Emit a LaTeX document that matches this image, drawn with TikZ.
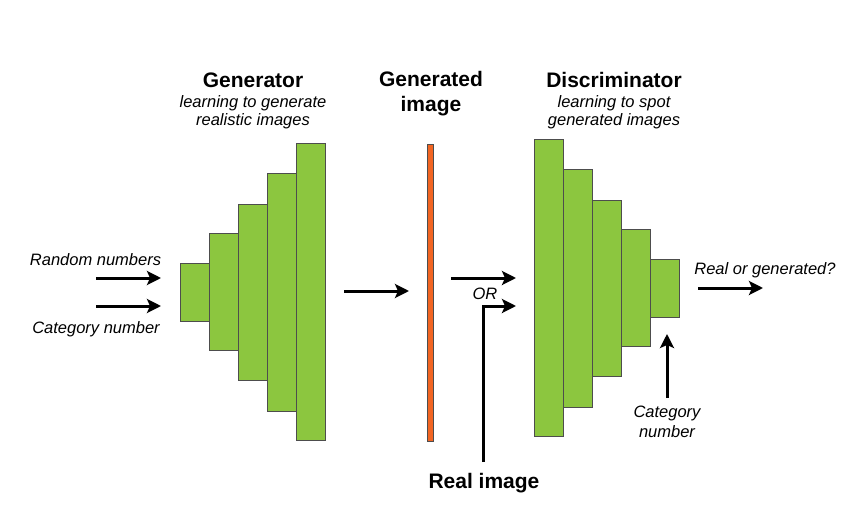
\documentclass[tikz,border=0pt]{standalone}
\usepackage{fontspec}
\setmainfont{Liberation Sans}
\usetikzlibrary{positioning, arrows.meta}

\definecolor{layergreen}{HTML}{8CC63F}
\definecolor{layeredge}{HTML}{4D4D4D}
\definecolor{imgorange}{HTML}{F26522}

\tikzset{
  layer/.style={draw=layeredge, fill=layergreen, line width=1pt, inner sep=0pt,
    outer sep=0pt, minimum width=29pt},
  title/.style={font=\fontsize{21}{25}\selectfont\bfseries, align=center, inner sep=0pt},
  note/.style={font=\fontsize{16.5}{18}\selectfont\itshape, align=center, inner sep=0pt},
  flow/.style={line width=3pt, -{Stealth[length=14pt,width=14pt,inset=3pt]}}
}

\begin{document}
\begin{tikzpicture}[x=1pt,y=-1pt]
      \useasboundingbox (0,0) rectangle (860,519);

      % generator
      \node[layer, minimum height=58pt]  (g_1) at (194.5,292) {};
      \node[layer, minimum height=117pt] (g_2) [right=0pt of g_1] {};
      \node[layer, minimum height=176pt] (g_3) [right=0pt of g_2] {};
      \node[layer, minimum height=238pt] (g_4) [right=0pt of g_3] {};
      \node[layer, minimum height=297pt] (g_5) [right=0pt of g_4] {};

      % generated image
      \node[draw=layeredge, fill=imgorange, line width=1pt, inner sep=0pt,
            minimum width=6pt, minimum height=297pt] (img) at (430,292.5) {};

      % discriminator
      \node[layer, minimum height=297pt] (d_1) at (548.5,288) {};
      \node[layer, minimum height=238pt] (d_2) [right=0pt of d_1] {};
      \node[layer, minimum height=176pt] (d_3) [right=0pt of d_2] {};
      \node[layer, minimum height=117pt] (d_4) [right=0pt of d_3] {};
      \node[layer, minimum height=58pt]  (d_5) [right=0pt of d_4] {};

      % labels
      \node[title, anchor=base] (gen_t) at (253,88) {Generator};
      \node[note, anchor=north] (gen_n) at (253,95) {learning to generate\\realistic images};
      \node[title, anchor=north] (img_t) at (431,71) {Generated\\image};
      \node[title, anchor=base] (dis_t) at (614,88) {Discriminator};
      \node[note, anchor=north] (dis_n) at (614,95) {learning to spot\\generated images};
      \node[note, anchor=base] (rand_t) at (95.5,265) {Random numbers};
      \node[note, anchor=base] (cat_t) at (96,333) {Category number};
      \node[note, anchor=base] (or_t) at (485,299) {OR};
      \node[note, anchor=base] (out_t) at (765,274) {Real or generated?};
      \node[note, anchor=north, font=\fontsize{16.5}{20}\selectfont\itshape] (cat2_t) at (667,406) {Category\\number};
      \node[title, anchor=base] (real_t) at (484,488) {Real image};

      % arrow ends
      \coordinate (rand_s) at (96,278);
      \coordinate (rand_e) at (161,278);
      \coordinate (cat_s) at (96,306);
      \coordinate (cat_e) at (161,306);
      \coordinate (gen_s) at (344,291);
      \coordinate (gen_e) at (409,291);
      \coordinate (fake_s) at (451,278);
      \coordinate (fake_e) at (516,278);
      \coordinate (real_s) at (483,462);
      \coordinate (real_k) at (483,306);
      \coordinate (real_e) at (516,306);
      \coordinate (out_s) at (698,288);
      \coordinate (out_e) at (763,288);
      \coordinate (cat2_s) at (667,398);
      \coordinate (cat2_e) at (667,334);

      \draw[flow] (rand_s) -- (rand_e);
      \draw[flow] (cat_s) -- (cat_e);
      \draw[flow] (gen_s) -- (gen_e);
      \draw[flow] (fake_s) -- (fake_e);
      \draw[flow] (real_s) -- (real_k) -- (real_e);
      \draw[flow] (out_s) -- (out_e);
      \draw[flow] (cat2_s) -- (cat2_e);
    \end{tikzpicture}
\end{document}
